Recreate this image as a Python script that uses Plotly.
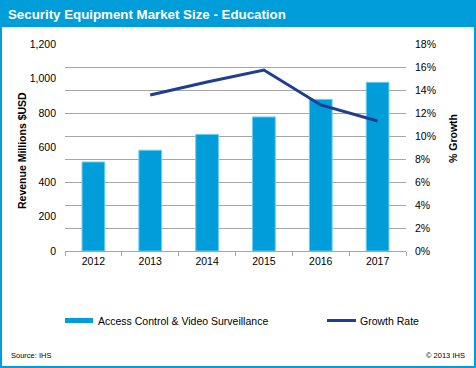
import plotly.graph_objects as go

years = ["2012", "2013", "2014", "2015", "2016", "2017"]
revenue = [516, 584, 676, 777, 879, 978]
growth_years = ["2013", "2014", "2015", "2016", "2017"]
growth = [0.1356, 0.147, 0.1574, 0.127, 0.113]

BLUE = "#009DDB"
DARK = "#1F3E92"
GRID = "#A6A6A6"
FONT = "Arial, Liberation Sans, sans-serif"

W, H = 476, 368
L, R, T, B = 65, 70, 44, 117
PW, PH = W - L - R, H - T - B

def px(x):
    return (x - L) / PW

def py(y):
    return (H - B - y) / PH

fig = go.Figure()
fig.add_trace(go.Bar(
    x=years, y=revenue, name="Access Control & Video Surveillance",
    marker=dict(color=BLUE, line=dict(color="#6CCBF2", width=1)),
    showlegend=False,
))
fig.add_trace(go.Scatter(
    x=growth_years, y=growth, yaxis="y2", mode="lines", name="Growth Rate",
    line=dict(color=DARK, width=3), showlegend=False,
))

shapes = [
    dict(type="rect", xref="paper", yref="paper", x0=px(0), x1=px(W), y0=py(27), y1=py(0),
         fillcolor=BLUE, line=dict(width=0), layer="below"),
    dict(type="rect", xref="paper", yref="paper", x0=px(1), x1=px(W - 1), y0=py(H - 1), y1=py(1),
         line=dict(color=BLUE, width=2), fillcolor="rgba(0,0,0,0)"),
    dict(type="rect", xref="paper", yref="paper", x0=px(65), x1=px(93), y0=py(323), y1=py(318),
         fillcolor=BLUE, line=dict(width=0)),
    dict(type="line", xref="paper", yref="paper", x0=px(327), x1=px(356), y0=py(320.5), y1=py(320.5),
         line=dict(color=DARK, width=3)),
]

annotations = [
    dict(text="<b>Security Equipment Market Size - Education</b>", xref="paper", yref="paper",
         x=px(6), y=py(14), xanchor="left", yanchor="middle", showarrow=False,
         font=dict(family=FONT, size=13.3, color="white")),
    dict(text="<b>Revenue Millions $USD</b>", xref="paper", yref="paper", x=px(22), y=py(151),
         xanchor="center", yanchor="middle", textangle=-90, showarrow=False,
         font=dict(family=FONT, size=10.5, color="black")),
    dict(text="<b>% Growth</b>", xref="paper", yref="paper", x=px(453), y=py(139),
         xanchor="center", yanchor="middle", textangle=-90, showarrow=False,
         font=dict(family=FONT, size=10.5, color="black")),
    dict(text="Access Control & Video Surveillance", xref="paper", yref="paper", x=px(96), y=py(320.5),
         xanchor="left", yanchor="middle", showarrow=False,
         font=dict(family=FONT, size=10.5, color="black")),
    dict(text="Growth Rate", xref="paper", yref="paper", x=px(358), y=py(320.5),
         xanchor="left", yanchor="middle", showarrow=False,
         font=dict(family=FONT, size=10.5, color="black")),
    dict(text="Source: IHS", xref="paper", yref="paper", x=px(9), y=py(355),
         xanchor="left", yanchor="middle", showarrow=False,
         font=dict(family=FONT, size=7.5, color="black")),
    dict(text="© 2013 IHS", xref="paper", yref="paper", x=px(467), y=py(355),
         xanchor="right", yanchor="middle", showarrow=False,
         font=dict(family=FONT, size=7.5, color="black")),
]

fig.update_layout(
    width=W, height=H,
    margin=dict(l=L, r=R, t=T, b=B),
    paper_bgcolor="white", plot_bgcolor="white",
    font=dict(family=FONT, size=10.5, color="black"),
    bargap=0.6,
    xaxis=dict(type="category", showline=True, linecolor=GRID, linewidth=1,
               ticks="outside", tickson="boundaries", ticklen=4, tickcolor=GRID,
               showgrid=False, tickfont=dict(size=10.5)),
    yaxis=dict(range=[0, 1200], dtick=200, tickformat=",", showgrid=False,
               showline=False, zeroline=False, ticks="", ticklabelstandoff=8,
               tickfont=dict(size=10.5)),
    yaxis2=dict(range=[0, 0.18], dtick=0.02, tickformat=".0%", overlaying="y", side="right",
                showgrid=True, gridcolor=GRID, gridwidth=1, zeroline=False, showline=False,
                ticks="", ticklabelstandoff=8, tickfont=dict(size=10.5)),
    shapes=shapes, annotations=annotations,
    showlegend=False,
)

fig.write_html("out.html", config={"displayModeBar": False},
               post_script="document.body.style.margin='0';document.body.style.overflow='hidden';")
